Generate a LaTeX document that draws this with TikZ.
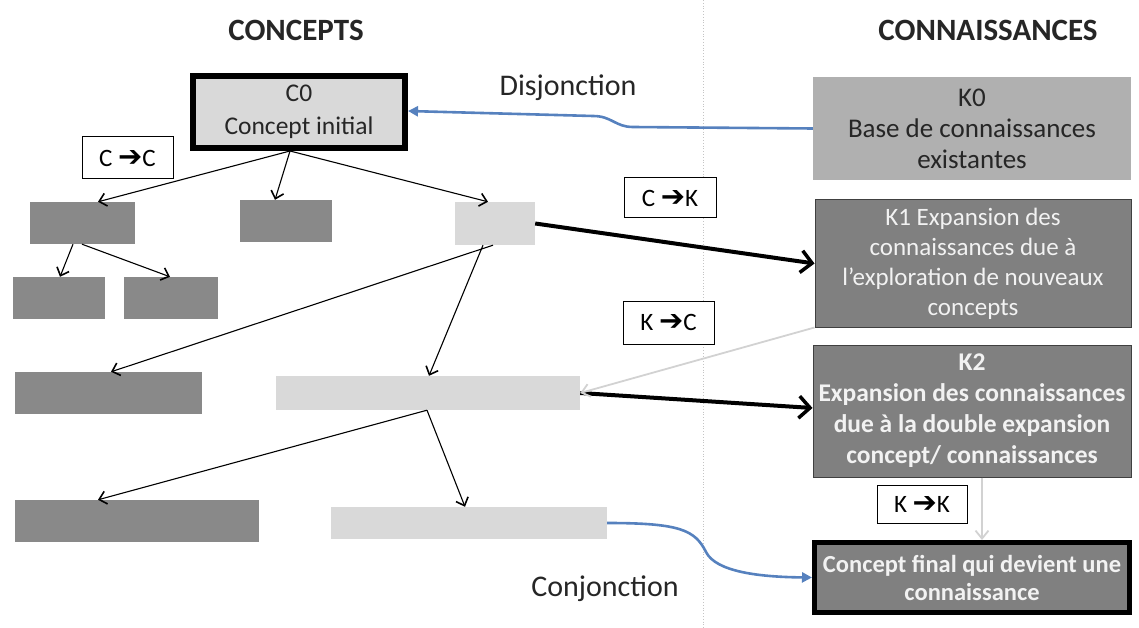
\documentclass[tikz,border=0pt]{standalone}
\usepackage{fontspec}
\setmainfont{Carlito}
\newfontfamily\symbfont{DejaVu Sans}
\usetikzlibrary{arrows.meta}

\definecolor{lightbox}{HTML}{D9D9D9}
\definecolor{darkbox}{HTML}{898989}
\definecolor{kzero}{HTML}{B0B0B0}
\definecolor{kbox}{HTML}{808080}
\definecolor{linkblue}{HTML}{5681BE}
\definecolor{paleline}{HTML}{D2D2D2}
\definecolor{txt}{HTML}{262626}
\definecolor{guide}{HTML}{C4C4C4}

\newcommand{\rarr}{{\symbfont\bfseries\fontsize{29}{29}\selectfont ➔}}

\tikzset{
  darkrect/.style={fill=darkbox, draw=none, inner sep=0pt},
  lightrect/.style={fill=lightbox, draw=none, inner sep=0pt},
  rulebox/.style={draw=black, line width=1pt, fill=white, inner sep=0pt,
    font=\fontsize{25}{28}\selectfont},
  bodytext/.style={font=\fontsize{25}{30}\selectfont, align=center},
  boldtext/.style={font=\fontsize{25.5}{31}\selectfont\bfseries, align=center},
  header/.style={font=\fontsize{31}{36}\selectfont\bfseries, text=txt},
  linklabel/.style={font=\fontsize{30}{36}\selectfont, text=txt},
  child/.style={line width=1.1pt, draw=black,
    -{Straight Barb[length=7pt,width=13pt,line width=1.6pt]}},
  flow/.style={line width=4pt, draw=black,
    -{Straight Barb[length=11pt,width=22pt,line width=3.5pt]}},
  feedback/.style={line width=1.8pt, draw=paleline,
    -{Straight Barb[length=8pt,width=13pt,line width=1.8pt]}},
  bond/.style={line width=2.6pt, draw=linkblue,
    -{Triangle[length=10pt,width=10pt]}},
}

\begin{document}
\begin{tikzpicture}[x=1pt,y=-1pt]
\useasboundingbox (0,0) rectangle (1139,628);

% column separator
\draw[guide, line width=0.8pt, dotted] (703,0) -- (703,628);

% headers
\node[header] (hc) at (296,30) {CONCEPTS};
\node[header] (hk) at (988,30) {CONNAISSANCES};

% concept tree
\node[draw=black, line width=6pt, fill=lightbox, minimum width=212pt,
      minimum height=72pt, font=\fontsize{25.5}{33}\selectfont, align=center,
      text=txt] (C0) at (299,112)
      {C0\\Concept initial};
\node[darkrect, minimum width=105pt, minimum height=42pt] (A)  at (82.5,223) {};
\node[darkrect, minimum width=92pt,  minimum height=42pt] (B)  at (286,221) {};
\node[lightrect,minimum width=80pt,  minimum height=43pt] (C)  at (495,223.5) {};
\node[darkrect, minimum width=92pt,  minimum height=42pt] (A1) at (59,298) {};
\node[darkrect, minimum width=94pt,  minimum height=42pt] (A2) at (171,298) {};
\node[darkrect, minimum width=187pt, minimum height=42pt] (D)  at (108.5,393) {};
\node[lightrect,minimum width=304pt, minimum height=34pt] (E)  at (428,393) {};
\node[darkrect, minimum width=244pt, minimum height=42pt] (F)  at (137,521) {};
\node[lightrect,minimum width=276pt, minimum height=32pt] (G)  at (469,523) {};

% knowledge column
\node[fill=kzero, inner sep=0pt, minimum width=318pt, minimum height=103pt,
      font=\fontsize{27}{31}\selectfont, align=center, text=txt] (K0) at (972,128.5)
      {K0\\Base de connaissances\\existantes};
\node[fill=kbox, draw=black!75, line width=1pt, inner sep=0pt,
      minimum width=316pt, minimum height=127pt, bodytext, text=white!95!black]
      (K1) at (973,263.5)
      {K1 Expansion des\\connaissances due à\\l’exploration de nouveaux\\concepts};
\node[fill=kbox, draw=black!75, line width=1pt, inner sep=0pt,
      minimum width=318pt, minimum height=132pt, boldtext, text=white!95!black]
      (K2) at (972,411)
      {K2\\Expansion des connaissances\\due à la double expansion\\concept/ connaissances};
\node[fill=kbox, draw=black, line width=5pt, inner sep=0pt,
      minimum width=315pt, minimum height=70pt, font=\fontsize{24.5}{28}\selectfont\bfseries,
      align=center, text=white!95!black]
      (KF) at (972,577.5)
      {Concept final qui devient une\\connaissance};

% operator labels
\node[rulebox, minimum width=91pt, minimum height=42pt] (lcc) at (127.5,158) {C \rarr C};
\node[rulebox, minimum width=92pt, minimum height=40pt] (lck) at (670,198) {C \rarr K};
\node[rulebox, minimum width=91pt, minimum height=43pt] (lkc) at (668.5,322.5) {K \rarr C};
\node[rulebox, minimum width=90pt, minimum height=38pt] (lkk) at (922,504) {K \rarr K};

\node[linklabel] (dis) at (568,88) {Disjonction};
\node[linklabel] (con) at (605,589) {Conjonction};

% tree edges
\draw[child] ([xshift=-9pt]C0.south) -- ([xshift=15.5pt]A.north);
\draw[child] ([xshift=-9pt]C0.south) -- ([xshift=-11pt]B.north);
\draw[child] ([xshift=-9pt]C0.south) -- ([xshift=-7pt]C.north);
\draw[child] ([xshift=-9.5pt]A.south) -- ([xshift=1pt]A1.north);
\draw[child] ([xshift=-0.5pt]A.south) -- ([xshift=-1pt]A2.north);
\draw[child] ([xshift=-2pt]C.south) -- ([xshift=2.5pt]D.north);
\draw[child] ([xshift=-12pt]C.south) -- ([xshift=1pt]E.north);
\draw[child] ([xshift=-1pt]E.south) -- ([xshift=-39pt]F.north);
\draw[child] ([xshift=-1pt]E.south) -- ([xshift=-4pt]G.north);

% concept / knowledge exchanges
\draw[flow] (C.east) -- (K1.west);
\draw[flow] (E.east) -- ([yshift=3pt]K2.west);
\draw[feedback] (K1.south west) -- (E.east);
\draw[feedback] ([xshift=10pt]K2.south) -- ([xshift=10pt]KF.north);

% disjunction and conjunction
\coordinate (d1) at (633,127);
\coordinate (d2) at (593,116);
\draw[bond] (K0.west) -- (d1) .. controls (615,127) and (612,116) .. (d2)
  -- ([yshift=1pt]C0.east);
\draw[bond] (G.east) .. controls (680,523) and (695,530) .. (706,552)
  .. controls (716,572) and (760,577) .. (KF.west);
\end{tikzpicture}
\end{document}
